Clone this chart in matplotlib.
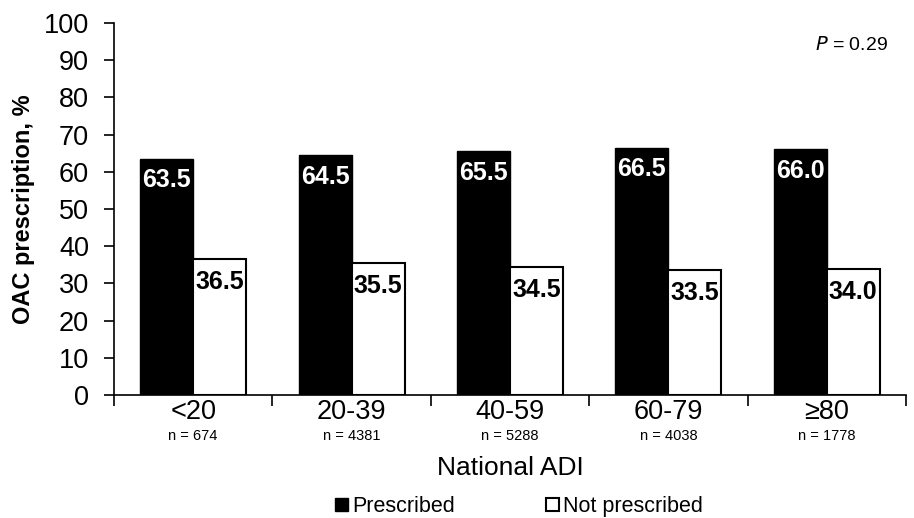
import matplotlib
matplotlib.use("Agg")
import matplotlib.pyplot as plt
from matplotlib.patches import Patch
import numpy as np

categories = ["<20", "20-39", "40-59", "60-79", "≥80"]
counts = ["n = 674", "n = 4381", "n = 5288", "n = 4038", "n = 1778"]
prescribed = [63.5, 64.5, 65.5, 66.5, 66.0]
not_prescribed = [36.5, 35.5, 34.5, 33.5, 34.0]

plt.rcParams["font.family"] = ["Liberation Sans", "DejaVu Sans"]

fig = plt.figure(figsize=(9.14, 5.18), dpi=100)
ax = fig.add_axes([0.1247, 0.2375, 0.8665, 0.7181])

x = np.arange(len(categories))
w = 0.335
b1 = ax.bar(x - w / 2, prescribed, w, color="black", edgecolor="black", linewidth=1)
b2 = ax.bar(x + w / 2, not_prescribed, w, color="white", edgecolor="black", linewidth=1.5)

# value labels just inside the top of each bar
for rect, v in zip(b1, prescribed):
    ax.annotate(f"{v:.1f}", (rect.get_x() + rect.get_width() / 2, v), xytext=(0, -7),
                textcoords="offset points", ha="center", va="top",
                color="white", fontsize=18, fontweight="bold")
for rect, v in zip(b2, not_prescribed):
    ax.annotate(f"{v:.1f}", (rect.get_x() + rect.get_width() / 2, v), xytext=(0, -8),
                textcoords="offset points", ha="center", va="top",
                color="black", fontsize=18, fontweight="bold")

ax.set_xlim(-0.5, len(categories) - 0.5)
ax.set_ylim(0, 100)
ax.set_yticks(range(0, 101, 10))
ax.tick_params(axis="y", labelsize=19.5, length=7, width=1.2, direction="out", pad=11)

ax.set_xticks(x)
ax.set_xticklabels(categories)
ax.set_xticks(np.arange(-0.5, len(categories)), minor=True)
ax.tick_params(axis="x", which="major", length=0, labelsize=19.5, pad=3)
ax.tick_params(axis="x", which="minor", length=8, width=1.2, direction="out")

for i, n in enumerate(counts):
    ax.text(i, -11, n, ha="center", va="center", fontsize=10.5)

ax.set_ylabel("OAC prescription, %", fontsize=17, fontweight="bold")
ax.yaxis.set_label_coords(-0.100, 0.5)
ax.text(0.5, -0.195, "National ADI", transform=ax.transAxes, ha="center", va="center",
        fontsize=19)

for s in ["top", "right"]:
    ax.spines[s].set_visible(False)
ax.spines["left"].set_linewidth(1.2)
ax.spines["bottom"].set_linewidth(1.2)

ax.text(0.977, 0.94, "$\\mathit{P}$ = 0.29", transform=ax.transAxes, ha="right",
        va="center", fontsize=14)

handles = [Patch(facecolor="black", edgecolor="black", label="Prescribed"),
           Patch(facecolor="white", edgecolor="black", linewidth=1.5, label="Not prescribed")]
fig.legend(handles=handles, loc="center", bbox_to_anchor=(0.568, 0.022), ncol=2,
           frameon=False, fontsize=15.5, handlelength=0.6, handleheight=0.6,
           handletextpad=0.2, columnspacing=4.2)

fig.savefig("out.png", dpi=100)
